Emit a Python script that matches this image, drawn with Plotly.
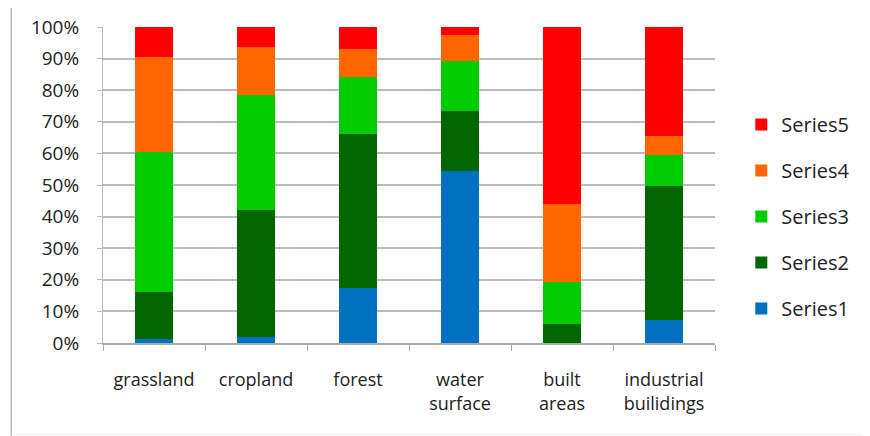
import plotly.graph_objects as go

categories = ["grassland", "cropland", "forest", "water<br>surface", "built<br>areas", "industrial<br>builidings"]
series1 = [1.2, 1.9, 17.5, 54.5, 0.0, 7.2]
series2 = [14.9, 40.2, 48.5, 18.8, 5.9, 42.6]
series3 = [44.4, 36.5, 18.1, 15.8, 13.4, 9.7]
series4 = [30.0, 15.1, 9.0, 8.3, 24.6, 5.9]
series5 = [9.5, 6.3, 6.9, 2.6, 56.1, 34.6]

names = ["Series1", "Series2", "Series3", "Series4", "Series5"]
colors = ["#0070C0", "#006600", "#00CC00", "#FF6600", "#FF0000"]
values = [series1, series2, series3, series4, series5]

font = "'Open Sans', sans-serif"

fig = go.Figure()
for i, (name, vals, col) in enumerate(zip(names, values, colors)):
    fig.add_trace(go.Bar(x=categories, y=vals, name=name, marker=dict(color=col, line=dict(width=0)),
                         legendgroup=name, legendrank=5 - i))

fig.update_layout(
    barmode="stack",
    bargap=0.62,
    width=870, height=436,
    margin=dict(l=95, r=163, t=19, b=101),
    plot_bgcolor="white", paper_bgcolor="white",
    font=dict(family=font, size=18, color="#222222"),
    showlegend=True,
    legend=dict(x=1.043, y=0.40, xanchor="left", yanchor="middle", traceorder="grouped",
                tracegroupgap=17, font=dict(size=20)),
)
fig.update_yaxes(range=[0, 100], dtick=10, ticksuffix="%", showgrid=True, gridcolor="#BBBBBB", gridwidth=1.5,
                 showline=True, linecolor="#BBBBBB", ticks="outside", ticklen=5, tickcolor="#BBBBBB",
                 zeroline=False, ticklabelstandoff=14, tickfont=dict(size=19), automargin=False)
fig.update_xaxes(showline=True, linecolor="#AAAAAA", linewidth=1.5, ticks="outside", tickson="boundaries",
                 ticklen=6, tickcolor="#AAAAAA", tickangle=0, ticklabelstandoff=20, automargin=False)
fig.add_shape(type="line", xref="paper", yref="paper", x0=-0.150, x1=-0.150, y0=-0.294, y1=1.07,
              line=dict(color="#BBBBBB", width=1.5))
fig.add_shape(type="line", xref="paper", yref="paper", x0=-0.150, x1=1.25, y0=-0.29, y1=-0.29,
              line=dict(color="#EEEEEE", width=1))

fig.write_html("out.html")
